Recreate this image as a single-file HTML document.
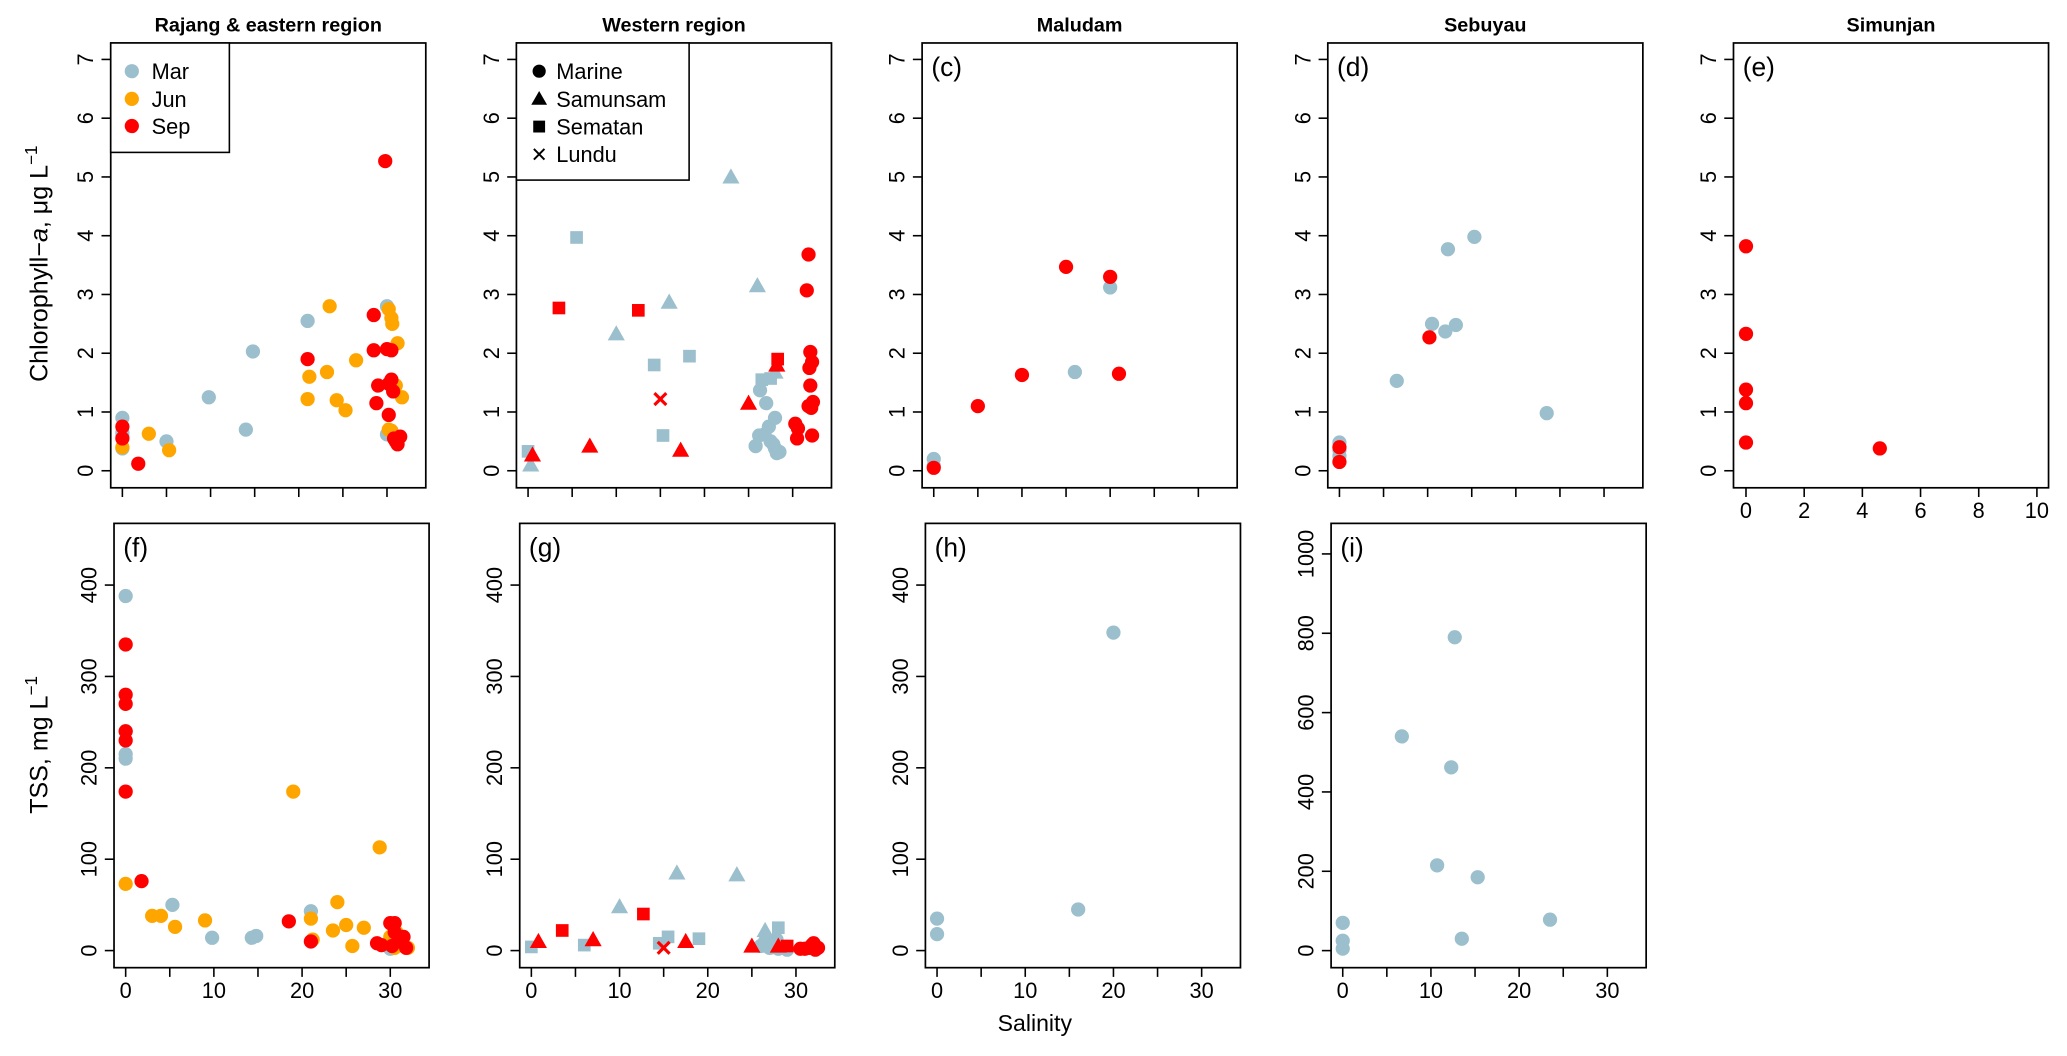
<!DOCTYPE html>
<html><head><meta charset="utf-8"><style>
html,body{margin:0;padding:0;background:#fff;}
svg{display:block;font-family:"Liberation Sans",Arial,sans-serif;}
</style></head><body>
<svg id="chart" width="2067" height="1056" viewBox="0 0 1568 801" preserveAspectRatio="none" xmlns="http://www.w3.org/2000/svg"></svg>
<script>
// ---------- data (salinity, value) ----------
const aMar=[[0,0.9],[0,0.65],[0,0.6],[0,0.38],[5,0.5],[9.8,1.25],[14,0.7],[14.8,2.03],[21,2.55],[30,2.8],[30,0.62]];
const aJun=[[0,0.4],[3,0.63],[5.3,0.35],[21,1.22],[21.2,1.6],[23.5,2.8],[23.2,1.68],[24.3,1.2],[25.3,1.03],[26.5,1.88],[30.2,2.75],[30.5,2.6],[30.6,2.5],[31.2,2.17],[30.5,1.45],[31,1.45],[31.7,1.25],[30.2,0.7],[30.5,0.68]];
const aSep=[[0,0.75],[0,0.55],[1.8,0.12],[21,1.9],[28.5,2.65],[28.5,2.05],[29,1.45],[28.8,1.15],[29.8,5.27],[30,2.07],[30.5,2.05],[30.5,1.55],[30.7,1.35],[30.2,1.48],[30.2,0.95],[30.8,0.55],[31.2,0.45],[31.5,0.58],[31,0.5]];
const bMarSq=[[0,0.33],[5.5,3.97],[14.3,1.8],[15.3,0.6],[18.3,1.95],[26.5,1.55],[27.5,1.57]];
const bMarTri=[[0.3,0.1],[10,2.33],[16,2.87],[23,5.0],[26,3.15],[28,1.68]];
const bMarCir=[[25.8,0.42],[26.2,0.6],[26.8,0.62],[26.3,1.37],[27,1.15],[27.3,0.75],[27.8,0.45],[28,0.38],[28.2,0.3],[28.5,0.32],[27.5,0.5],[28,0.9]];
const bSepSq=[[3.5,2.77],[12.5,2.73],[28.3,1.9]];
const bSepTri=[[0.5,0.27],[7,0.42],[17.3,0.35],[25,1.15],[28.2,1.8]];
const bSepX=[[15,1.22]];
const bSepCir=[[31.8,3.68],[31.6,3.07],[32,2.02],[32.2,1.85],[31.9,1.75],[32,1.45],[32.3,1.17],[31.8,1.1],[32.1,1.07],[30.3,0.8],[30.6,0.72],[30.5,0.55],[32.2,0.6]];
const cMar=[[0,0.2],[0,0.08],[16,1.68],[20,3.12]];
const cSep=[[0,0.05],[5,1.1],[10,1.63],[15,3.47],[20,3.3],[21,1.65]];
const dMar=[[0,0.48],[0,0.35],[0,0.25],[6.5,1.53],[10.5,2.5],[12,2.37],[12.3,3.77],[13.2,2.48],[15.3,3.98],[23.5,0.98]];
const dSep=[[0,0.15],[10.2,2.27],[0,0.4]];
const eSep=[[0,3.82],[0,2.33],[0,1.38],[0,1.15],[0,0.48],[4.6,0.38]];
const fMar=[[0,388],[0,240],[0,215],[0,210],[5.3,50],[9.8,14],[14.3,14],[14.8,16],[21,43],[30,8],[30,2]];
const fJun=[[0,73],[3,38],[4,38],[5.6,26],[9,33],[19,174],[21,35],[21.2,12],[23.5,22],[24,53],[25,28],[25.7,5],[27,25],[28.8,113],[30,15],[30.3,10],[30.7,20],[31,8],[31.5,5],[32,3],[30.5,3]];
const fSep=[[0,335],[0,280],[0,270],[0,240],[0,230],[0,174],[1.8,76],[18.5,32],[21,10],[28.5,8],[29,6],[30,30],[30.5,30],[30.5,20],[31,10],[31.5,15],[31.8,3],[30.2,5]];
const gMarSq=[[0,4],[6,6],[14.5,8],[15.5,15],[19,13],[28,25],[28.5,5]];
const gMarTri=[[10,48],[16.5,85],[23.3,83],[26.5,22],[27,5],[28,3]];
const gMarCir=[[26,5],[26.5,10],[27,3],[27.5,8],[28,2],[28.5,3],[29,1],[27.8,12]];
const gSepSq=[[3.5,22],[12.7,40],[29,5]];
const gSepTri=[[0.8,10],[7,12],[17.5,10],[25,5],[28,5]];
const gSepX=[[15,3]];
const gSepCir=[[31,2],[31.5,3],[32,8],[32.5,3],[30.5,2],[31.8,6],[32.2,1]];
const hMar=[[0,35],[0,18],[16,45],[20,348]];
const iMar=[[0,70],[0,25],[0,5],[6.7,540],[10.7,215],[12.3,462],[12.7,790],[13.5,30],[15.3,185],[23.5,78]];
const titles=["Rajang & eastern region","Western region","Maludam","Sebuyau","Simunjan"];
const chlTicks=[0,1,2,3,4,5,6,7];
const tssTicks=[0,100,200,300,400];
const tssITicks=[0,200,400,600,800,1000];
const salTicks=[0,10,20,30];
const salMinor=[0,5,10,15,20,25,30];
const eTicks=[0,2,4,6,8,10];

const MAR="#9bbfcc",JUN="#ffa500",SEP="#ff0000";
const NS="http://www.w3.org/2000/svg";
const svg=document.getElementById('chart');
function mk(tag,attrs,parent){const e=document.createElementNS(NS,tag);for(const k in attrs)e.setAttribute(k,attrs[k]);(parent||svg).appendChild(e);return e;}
function txt(s,x,y,size,attrs,parent){const t=mk('text',Object.assign({x:x,y:y,'font-size':size,'text-anchor':'middle'},attrs||{}),parent);t.textContent=s;return t;}

const W=239;
function panel(name,left,top,bottom,xmin,xmax,ymin,ymax,yt,xt,xlab,xminor,label){
  const g=mk('g',{});
  
  
  const xs=v=>left+(v-xmin)/(xmax-xmin)*W;
  const ys=v=>bottom-(v-ymin)/(ymax-ymin)*(bottom-top);
  const box=mk('rect',{x:left,y:top,width:W,height:bottom-top,fill:'none',stroke:'#000','stroke-width':1.3},g);
  
  
  yt.forEach(v=>{
    mk('line',{x1:left,x2:left-7,y1:ys(v),y2:ys(v),stroke:'#000','stroke-width':1.2},g);
    const t=txt(String(v),0,0,16.5,{transform:`translate(${left-19},${ys(v)}) rotate(-90)`,'dominant-baseline':'central'},g);
    
    
  });
  xminor.forEach(v=>{mk('line',{x1:xs(v),x2:xs(v),y1:bottom,y2:bottom+7,stroke:'#000','stroke-width':1.2},g);});
  if(xlab) xt.forEach(v=>{
    const t=txt(String(v),xs(v),bottom+23,16.5,{},g);
    
    
  });
  const pl=txt(label,left+7,top+25,20,{'text-anchor':'start'},g);
  
  
  return {g,xs,ys};
}
function pts(P,data,color,shape,name){
  data.forEach(d=>{
    const x=P.xs(d[0]),y=P.ys(d[1]);let e;
    if(shape==='c') e=mk('circle',{cx:x,cy:y,r:5.4,fill:color},P.g);
    else if(shape==='s') e=mk('rect',{x:x-4.8,y:y-4.8,width:9.6,height:9.6,fill:color},P.g);
    else if(shape==='t') e=mk('polygon',{points:`${x},${y-6.5} ${x-6.5},${y+5} ${x+6.5},${y+5}`,fill:color},P.g);
    else e=mk('path',{d:`M${x-4.5},${y-4.5}L${x+4.5},${y+4.5}M${x-4.5},${y+4.5}L${x+4.5},${y-4.5}`,stroke:color,'stroke-width':2.4},P.g);
    
    
  });
}
const lefts=[84,391.75,699.5,1007.25,1315];
const T0=32.6,T1=370,B0=397,B1=734;
const salMin=-1.32,salMax=34.4;
const chlMin=-0.29,chlMax=7.28;
const tMin=-18.7,tMax=467.5;

// top row
const pa=panel('panel-a',lefts[0],T0,T1,salMin,salMax,chlMin,chlMax,chlTicks,salTicks,false,salMinor,'(a)');
pts(pa,aMar,MAR,'c','point-mar');pts(pa,aJun,JUN,'c','point-jun');pts(pa,aSep,SEP,'c','point-sep');
const pb=panel('panel-b',lefts[1],T0,T1,salMin,salMax,chlMin,chlMax,chlTicks,salTicks,false,salMinor,'(b)');
pts(pb,bMarSq,MAR,'s','point-mar-sematan');pts(pb,bMarTri,MAR,'t','point-mar-samunsam');pts(pb,bMarCir,MAR,'c','point-mar-marine');
pts(pb,bSepSq,SEP,'s','point-sep-sematan');pts(pb,bSepTri,SEP,'t','point-sep-samunsam');pts(pb,bSepX,SEP,'x','point-sep-lundu');pts(pb,bSepCir,SEP,'c','point-sep-marine');
const pc=panel('panel-c',lefts[2],T0,T1,salMin,salMax,chlMin,chlMax,chlTicks,salTicks,false,salMinor,'(c)');
pts(pc,cMar,MAR,'c','point-mar');pts(pc,cSep,SEP,'c','point-sep');
const pd=panel('panel-d',lefts[3],T0,T1,salMin,salMax,chlMin,chlMax,chlTicks,salTicks,false,salMinor,'(d)');
pts(pd,dMar,MAR,'c','point-mar');pts(pd,dSep,SEP,'c','point-sep');
const pe=panel('panel-e',lefts[4],T0,T1,-0.43,10.4,chlMin,chlMax,chlTicks,eTicks,true,eTicks,'(e)');
pts(pe,eSep,SEP,'c','point-sep');

// bottom row
const o=2.5;
const pf=panel('panel-f',lefts[0]+o,B0,B1,salMin,salMax,tMin,tMax,tssTicks,salTicks,true,salMinor,'(f)');
pts(pf,fMar,MAR,'c','point-mar');pts(pf,fJun,JUN,'c','point-jun');pts(pf,fSep,SEP,'c','point-sep');
const pg=panel('panel-g',lefts[1]+o,B0,B1,salMin,salMax,tMin,tMax,tssTicks,salTicks,true,salMinor,'(g)');
pts(pg,gMarSq,MAR,'s','point-mar-sematan');pts(pg,gMarTri,MAR,'t','point-mar-samunsam');pts(pg,gMarCir,MAR,'c','point-mar-marine');
pts(pg,gSepSq,SEP,'s','point-sep-sematan');pts(pg,gSepTri,SEP,'t','point-sep-samunsam');pts(pg,gSepX,SEP,'x','point-sep-lundu');pts(pg,gSepCir,SEP,'c','point-sep-marine');
const ph=panel('panel-h',lefts[2]+o,B0,B1,salMin,salMax,tMin,tMax,tssTicks,salTicks,true,salMinor,'(h)');
pts(ph,hMar,MAR,'c','point-mar');
const pi=panel('panel-i',lefts[3]+o,B0,B1,salMin,salMax,-43,1077,tssITicks,salTicks,true,salMinor,'(i)');
pts(pi,iMar,MAR,'c','point-mar');

// titles
titles.forEach((t,i)=>{const e=txt(t,lefts[i]+W/2,24,15,{'font-weight':'bold'});

});

// axis titles
let e=txt('Salinity',785,782,17.5,{});


e=mk('text',{transform:'translate(36,200) rotate(-90)','font-size':19,'text-anchor':'middle'});
e.innerHTML='Chlorophyll−<tspan font-style="italic">a</tspan>, μg L<tspan dy="-8" font-size="13">−1</tspan>';


e=mk('text',{transform:'translate(36,565) rotate(-90)','font-size':19,'text-anchor':'middle'});
e.innerHTML='TSS, mg L<tspan dy="-8" font-size="13">−1</tspan>';



// legend a
const la=mk('g',{});


mk('rect',{x:84,y:32.6,width:90,height:83,fill:'#fff',stroke:'#000','stroke-width':1.2},la);
[['Mar',MAR,54],['Jun',JUN,75],['Sep',SEP,95.6]].forEach(r=>{
  const c=mk('circle',{cx:100,cy:r[2],r:5.4,fill:r[1]},la);
  
  
  txt(r[0],115,r[2]+6,16.5,{'text-anchor':'start'},la);
});
// legend b
const lb=mk('g',{});


mk('rect',{x:391.75,y:32.6,width:131,height:104,fill:'#fff',stroke:'#000','stroke-width':1.2},lb);
const sx=409;
mk('circle',{cx:sx,cy:54,r:5,fill:'#000'},lb);
mk('polygon',{points:`${sx},${69} ${sx-6},${79.5} ${sx+6},${79.5}`,fill:'#000'},lb);
mk('rect',{x:sx-4.5,y:91.5,width:9,height:9,fill:'#000'},lb);
mk('path',{d:`M${sx-4},${113}L${sx+4},${121}M${sx-4},${121}L${sx+4},${113}`,stroke:'#000','stroke-width':1.5},lb);
[['Marine',54],['Samunsam',75],['Sematan',96],['Lundu',117]].forEach(r=>{
  const t=txt(r[0],422,r[1]+6,16.5,{'text-anchor':'start'},lb);
  
  
});
</script>
</body></html>
